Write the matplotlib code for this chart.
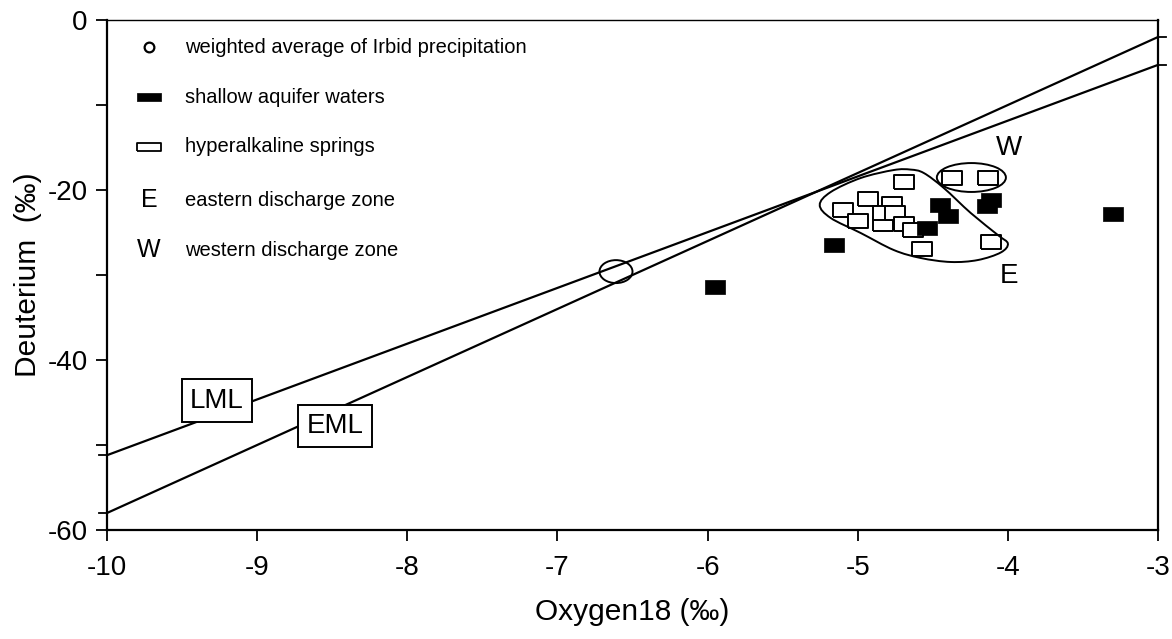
import matplotlib.pyplot as plt
import numpy as np
from matplotlib.patches import Ellipse, PathPatch
from matplotlib.path import Path

plt.rcParams["font.family"] = ["Liberation Sans", "DejaVu Sans"]
plt.rcParams["axes.unicode_minus"] = False

# ---------------------------------------------------------------------------
# Data (delta-18O, delta-D in permil)
# ---------------------------------------------------------------------------

# weighted average of Irbid precipitation
irbid_o18 = [-6.61]
irbid_d = [-29.6]

# shallow aquifer waters
shallow_o18 = [-5.95, -5.16, -4.45, -4.40, -4.54, -4.11, -4.14, -3.30]
shallow_d = [-31.4, -26.5, -21.8, -23.0, -24.5, -21.2, -21.9, -22.8]

# hyperalkaline springs
spring_o18 = [-4.69, -4.93, -5.10, -5.00, -4.83, -4.77, -4.83, -4.75,
              -4.69, -4.63, -4.57, -4.11, -4.37, -4.13]
spring_d = [-19.1, -21.0, -22.35, -23.7, -24.0, -21.65, -22.65, -22.75,
            -24.0, -24.65, -26.9, -26.1, -18.6, -18.6]

# meteoric water lines: dD = slope * d18O + intercept
lml_slope, lml_intercept = 6.56, 14.4   # local meteoric line
eml_slope, eml_intercept = 8.0, 22.0    # eastern Mediterranean meteoric line

x_min, x_max = -10, -3
y_min, y_max = -60, 0

# ---------------------------------------------------------------------------
# Figure
# ---------------------------------------------------------------------------

fig = plt.figure(figsize=(11.72, 6.39), dpi=100)
ax = fig.add_axes([107 / 1172, 1 - 530 / 639, 1051 / 1172, 510 / 639])
ax.set_xlim(x_min, x_max)
ax.set_ylim(y_min, y_max)

# rectangular marker, wider than tall
rect_marker = [(-0.5, -0.34), (0.5, -0.34), (0.5, 0.34), (-0.5, 0.34), (-0.5, -0.34)]
flat_marker = [(-0.5, -0.19), (0.5, -0.19), (0.5, 0.19), (-0.5, 0.19), (-0.5, -0.19)]

# meteoric lines
xs = np.array([x_min, x_max], dtype=float)
for slope, icpt in [(lml_slope, lml_intercept), (eml_slope, eml_intercept)]:
    ys = slope * xs + icpt
    ax.plot(xs, ys, color="black", lw=1.6, zorder=2)
    # short stubs where the lines meet the frame
    ax.plot([x_min - 0.055, x_min], [ys[0], ys[0]], color="black", lw=1.3,
            clip_on=False)
    ax.plot([x_max, x_max + 0.055], [ys[1], ys[1]], color="black", lw=1.3,
            clip_on=False)

# hyperalkaline springs (open)
ax.plot(spring_o18, spring_d, ls="none", marker=rect_marker, markersize=14.5,
        markerfacecolor="white", markeredgecolor="black", markeredgewidth=1.4,
        zorder=3)
# shallow aquifer waters (filled)
ax.plot(shallow_o18, shallow_d, ls="none", marker=rect_marker, markersize=14.5,
        markerfacecolor="black", markeredgecolor="black", markeredgewidth=0.5,
        zorder=4)

# Irbid precipitation average as an open ellipse
for xo, yd in zip(irbid_o18, irbid_d):
    ax.add_patch(Ellipse((xo, yd), 0.22, 2.7, fill=False, ec="black", lw=1.4,
                         zorder=5))

# eastern discharge zone outline (smooth closed curve through guide points)
e_pts = np.array([
    (-5.253, -21.76), (-5.18, -20.24), (-4.98, -18.59), (-4.76, -17.65),
    (-4.647, -17.60), (-4.56, -18.0), (-4.427, -19.76), (-4.247, -22.71),
    (-4.067, -25.29), (-4.0, -26.3), (-4.047, -27.35), (-4.2, -28.24),
    (-4.38, -28.47), (-4.58, -28.0), (-4.76, -27.06), (-4.98, -25.06),
    (-5.18, -23.29),
])
n = len(e_pts)
verts = [e_pts[0]]
codes = [Path.MOVETO]
for i in range(n):
    p0, p1, p2, p3 = e_pts[i - 1], e_pts[i], e_pts[(i + 1) % n], e_pts[(i + 2) % n]
    verts += [p1 + (p2 - p0) / 6, p2 - (p3 - p1) / 6, p2]
    codes += [Path.CURVE4] * 3
ax.add_patch(PathPatch(Path(verts, codes), fill=False, ec="black", lw=1.4,
                       zorder=5))

# western discharge zone outline
ax.add_patch(Ellipse((-4.243, -18.53), 0.46, 3.4, fill=False, ec="black",
                     lw=1.4, zorder=5))

ax.text(-3.993, -15.1, "W", fontsize=20, ha="center", va="center")
ax.text(-3.993, -30.1, "E", fontsize=20, ha="center", va="center")

# line labels
box = dict(boxstyle="square,pad=0.3", fc="white", ec="black", lw=1.4)
ax.text(-9.267, -44.8, "LML", fontsize=20, ha="center", va="center", bbox=box,
        zorder=6)
ax.text(-8.48, -47.76, "EML", fontsize=20, ha="center", va="center", bbox=box,
        zorder=6)

# ---------------------------------------------------------------------------
# Key
# ---------------------------------------------------------------------------

sym_x, txt_x = 0.040, 0.0742
rows_y = [0.947, 0.849, 0.751, 0.647, 0.549]
labels = [
    "weighted average of Irbid precipitation",
    "shallow aquifer waters",
    "hyperalkaline springs",
    "eastern discharge zone",
    "western discharge zone",
]
tr = ax.transAxes
ax.plot(sym_x, rows_y[0], transform=tr, marker="o", markersize=7,
        mfc="white", mec="black", mew=1.6, ls="none")
ax.plot(sym_x, rows_y[1], transform=tr, marker=flat_marker, markersize=17,
        mfc="black", mec="black", mew=0.5, ls="none")
ax.plot(sym_x, rows_y[2], transform=tr, marker=flat_marker, markersize=17,
        mfc="white", mec="black", mew=1.3, ls="none")
ax.text(sym_x, rows_y[3], "E", transform=tr, fontsize=18, ha="center",
        va="center")
ax.text(sym_x, rows_y[4], "W", transform=tr, fontsize=18, ha="center",
        va="center")
for y, lab in zip(rows_y, labels):
    ax.text(txt_x, y, lab, transform=tr, fontsize=14.5, ha="left", va="center")

# ---------------------------------------------------------------------------
# Axes styling
# ---------------------------------------------------------------------------

ax.set_xticks(np.arange(-10, -2))
ax.set_yticks([-60, -40, -20, 0])
ax.set_yticks([-50, -30, -10], minor=True)
ax.tick_params(axis="both", which="both", direction="out", length=8, width=1.3,
               labelsize=20)
ax.tick_params(axis="x", pad=10)
ax.tick_params(axis="y", pad=6)
ax.tick_params(top=False, right=False)

for side in ["left", "bottom", "right"]:
    ax.spines[side].set_linewidth(1.6)
ax.spines["top"].set_linewidth(1.0)

ax.set_xlabel("Oxygen18 (‰)", fontsize=21.5, labelpad=12)
ax.set_ylabel("Deuterium  (‰)", fontsize=21.5, labelpad=4)

fig.savefig("out.png", dpi=100)
